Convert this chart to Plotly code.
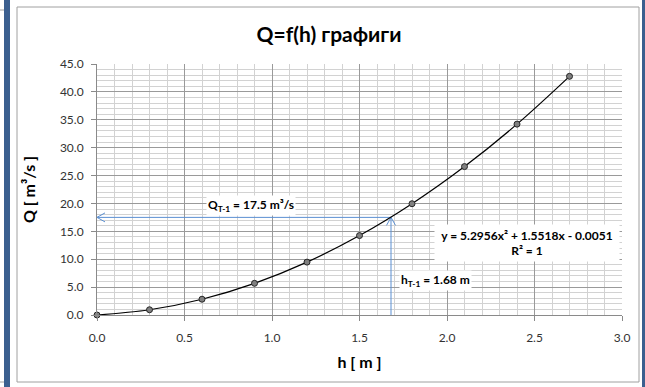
import plotly.graph_objects as go

# ---- data ----
h_values = [0.0, 0.3, 0.6, 0.9, 1.2, 1.5, 1.8, 2.1, 2.4, 2.7]
Q_values = [0.0, 0.94, 2.83, 5.68, 9.48, 14.24, 19.95, 26.61, 34.22, 42.79]
h_T = 1.68
Q_T = 17.5
title_text = "Q=f(h) графиги"
x_title = "h [ m ]"
y_title = "Q [ m³/s ]"
eq_text = "y = 5.2956x² + 1.5518x - 0.0051<br>R² = 1"
q_label = "Q<sub>T-1</sub> = 17.5 m³/s"
h_label = "h<sub>T-1</sub> = 1.68 m"

W, H = 645, 387
X0, X1, Y0, Y1 = 97, 622, 315, 64       # plot area in pixels
X_RANGE = [0, 3]
Y_RANGE = [0, 45]

def px(x):
    return x / W
def py(y):
    return 1 - y / H

ux = (X_RANGE[1] - X_RANGE[0]) / (X1 - X0)
uy = (Y_RANGE[1] - Y_RANGE[0]) / (Y0 - Y1)
HEAD_L, HEAD_W = 8, 4.5

FONT = "Lato"
BLUE = "#5a8fd2"

fig = go.Figure()

arrow_x = [h_T, 0, None, HEAD_L * ux, 0, HEAD_L * ux, None,
           h_T, h_T, None, h_T - HEAD_W * ux, h_T, h_T + HEAD_W * ux]
arrow_y = [Q_T, Q_T, None, Q_T + HEAD_W * uy, Q_T, Q_T - HEAD_W * uy, None,
           0, Q_T, None, Q_T - HEAD_L * uy, Q_T, Q_T - HEAD_L * uy]
fig.add_trace(go.Scatter(x=arrow_x, y=arrow_y, mode="lines",
                         line=dict(color=BLUE, width=1), showlegend=False,
                         hoverinfo="skip", cliponaxis=False))

fig.add_trace(go.Scatter(
    x=h_values, y=Q_values, mode="lines+markers",
    line=dict(color="black", width=1.2, shape="spline"),
    marker=dict(symbol="circle", size=6, color="#808080",
                line=dict(color="#262626", width=1)),
    showlegend=False, hoverinfo="skip", cliponaxis=False))

axis_common = dict(
    showgrid=True, gridcolor="#9a9a9a", gridwidth=1,
    ticks="outside", ticklen=5, tickcolor="#8a8a8a",
    showline=True, linecolor="#8a8a8a", linewidth=1,
    zeroline=False, tickformat=".1f",
    tickfont=dict(family=FONT, size=12, color="#333333"),
    automargin=False, fixedrange=True)

fig.update_layout(
    width=W, height=H, margin=dict(l=0, r=0, t=0, b=0),
    paper_bgcolor="white", plot_bgcolor="white",
    font=dict(family=FONT),
    title=dict(text="<b>" + title_text + "</b>", x=px(329), y=py(35),
               xref="container", yref="container", xanchor="center", yanchor="middle",
               font=dict(family=FONT, size=21, color="black")),
    xaxis=dict(domain=[px(X0), px(X1)], range=X_RANGE, dtick=0.5, tick0=0,
               minor=dict(dtick=0.1, showgrid=True, gridcolor="#d2d2d2", gridwidth=1),
               ticklabelstandoff=7,
               title=dict(text="<b>" + x_title + "</b>", standoff=12,
                          font=dict(family=FONT, size=16, color="black")),
               **axis_common),
    yaxis=dict(domain=[py(Y0), py(Y1)], range=Y_RANGE, dtick=5, tick0=0,
               minor=dict(dtick=1, showgrid=True, gridcolor="#d2d2d2", gridwidth=1),
               ticklabelstandoff=5,
               title=dict(text="<b>" + y_title + "</b>", standoff=20,
                          font=dict(family=FONT, size=16, color="black")),
               **axis_common),
)

shapes = [
    dict(type="rect", xref="paper", yref="paper", x0=px(4), x1=px(10), y0=0, y1=1,
         fillcolor="#3b5f8f", line=dict(width=0)),
    dict(type="rect", xref="paper", yref="paper", x0=px(642), x1=px(645), y0=0, y1=1,
         fillcolor="#3b5f8f", line=dict(width=0)),
    dict(type="rect", xref="paper", yref="paper", x0=px(17), x1=px(639), y0=py(382), y1=py(7),
         fillcolor="rgba(0,0,0,0)", line=dict(color="#a0a0a0", width=1), layer="below"),
    dict(type="line", xref="paper", yref="paper", x0=0, x1=px(4), y0=py(10), y1=py(10),
         line=dict(color="#a0a0a0", width=1)),
    dict(type="line", xref="paper", yref="paper", x0=0, x1=px(4), y0=py(382), y1=py(382),
         line=dict(color="#a0a0a0", width=1)),
]
fig.update_layout(shapes=shapes)

annotations = [
    dict(text="<b>" + q_label + "</b>", xref="paper", yref="paper",
         x=px(251), y=py(205), showarrow=False, font=dict(family=FONT, size=12, color="black"),
         xanchor="center", yanchor="middle", bgcolor="white"),
    dict(text="<b>" + h_label + "</b>", xref="paper", yref="paper",
         x=px(435), y=py(280), showarrow=False, font=dict(family=FONT, size=12, color="black"),
         xanchor="center", yanchor="middle", bgcolor="white"),
    dict(text="<b>" + eq_text + "</b>", xref="paper", yref="paper",
         x=px(527), y=py(243), showarrow=False, font=dict(family=FONT, size=12, color="black"),
         xanchor="center", yanchor="middle", bgcolor="white", width=182, height=34, align="center"),
]
fig.update_layout(annotations=annotations)

fig.write_html("out.html")
